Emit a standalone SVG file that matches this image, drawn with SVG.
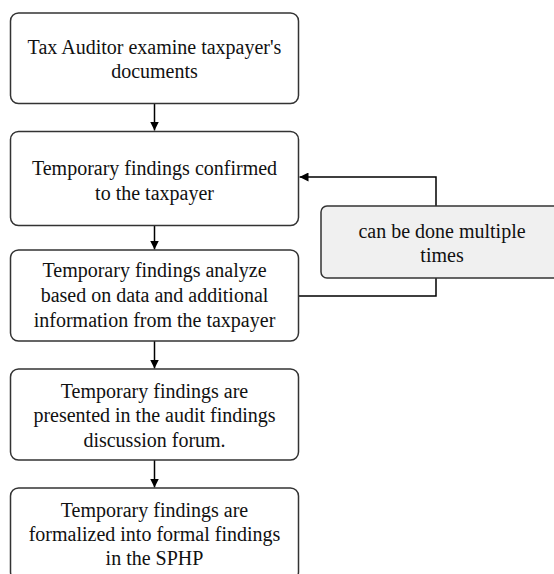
<svg xmlns="http://www.w3.org/2000/svg" width="554" height="574" viewBox="0 0 554 574">
  <style>
    .box { fill: #ffffff; stroke: #333333; stroke-width: 1.5; }
    .note { fill: #f0f0f0; stroke: #333333; stroke-width: 1.5; }
    .t { font-family: 'Liberation Serif', 'DejaVu Serif', serif; font-size: 20px; fill: #111111; text-anchor: middle; }
    .edge { fill: none; stroke: #000000; stroke-width: 1.5; }
  </style>
  <defs>
    <marker id="arrow" viewBox="0 0 10 10" refX="10" refY="5" markerWidth="9" markerHeight="9" markerUnits="userSpaceOnUse" orient="auto">
      <path d="M0,0 L10,5 L0,10 Z" fill="#000000"/>
    </marker>
  </defs>
  <rect width="554" height="574" fill="#ffffff"/>
  <g id="connectors">
    <path class="edge" d="M154.5,103.5 V130.5" marker-end="url(#arrow)"/>
    <path class="edge" d="M154.5,225.5 V249.5" marker-end="url(#arrow)"/>
    <path class="edge" d="M154.5,341 V368.5" marker-end="url(#arrow)"/>
    <path class="edge" d="M154.5,460 V487.5" marker-end="url(#arrow)"/>
    <path class="edge" d="M298.5,296 H436 V177 H299.5" marker-end="url(#arrow)"/>
  </g>
  <g id="node1">
    <rect class="box" x="10.5" y="13" width="288" height="90.5" rx="8"/>
    <text class="t" font-family="Liberation Serif" x="154.5" y="54">Tax Auditor examine taxpayer's</text>
    <text class="t" font-family="Liberation Serif" x="154.5" y="78">documents</text>
  </g>
  <g id="node2">
    <rect class="box" x="10.5" y="131.5" width="288" height="94" rx="8"/>
    <text class="t" x="154.5" y="175">Temporary findings confirmed</text>
    <text class="t" x="154.5" y="200">to the taxpayer</text>
  </g>
  <g id="node3">
    <rect class="box" x="10.5" y="250" width="288" height="91" rx="8"/>
    <text class="t" x="154.5" y="277">Temporary findings analyze</text>
    <text class="t" x="154.5" y="302">based on data and additional</text>
    <text class="t" x="154.5" y="327">information from the taxpayer</text>
  </g>
  <g id="node4">
    <rect class="box" x="10.5" y="369" width="288" height="91" rx="8"/>
    <text class="t" x="154.5" y="398">Temporary findings are</text>
    <text class="t" x="154.5" y="422">presented in the audit findings</text>
    <text class="t" x="154.5" y="447">discussion forum.</text>
  </g>
  <g id="node5">
    <rect class="box" x="10.5" y="488" width="288" height="92" rx="8"/>
    <text class="t" x="154.5" y="517">Temporary findings are</text>
    <text class="t" x="154.5" y="541">formalized into formal findings</text>
    <text class="t" x="154.5" y="565">in the SPHP</text>
  </g>
  <g id="note">
    <rect class="note" x="321" y="206" width="242" height="72" rx="6"/>
    <text class="t" x="442" y="238">can be done multiple</text>
    <text class="t" x="442" y="262">times</text>
  </g>
</svg>
